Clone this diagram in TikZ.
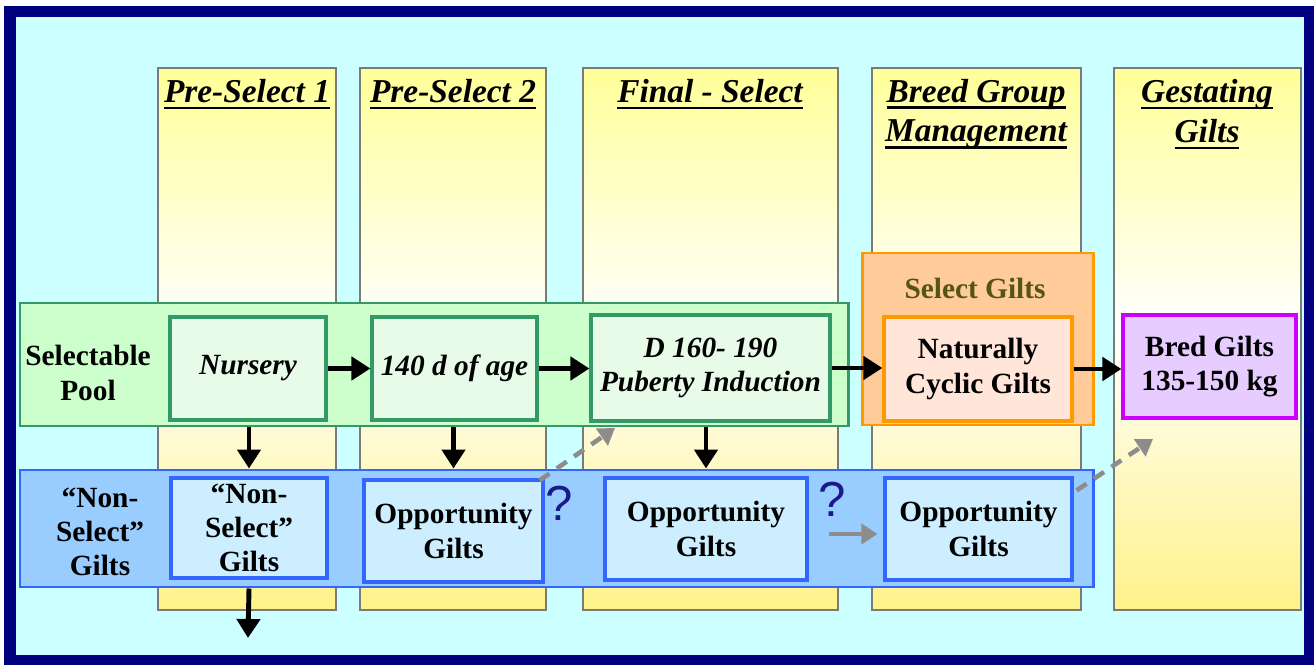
\documentclass[tikz,border=0pt]{standalone}
\usepackage{fontspec}
\setmainfont{Liberation Serif}
\newfontfamily\qmarkFont{Liberation Sans}
\usetikzlibrary{calc}
\usetikzlibrary{arrows.meta}

\definecolor{frameNavy}{HTML}{000080}
\definecolor{skyCyan}{HTML}{CCFFFF}
\definecolor{colYellow}{HTML}{FFFF99}
\definecolor{colEdge}{HTML}{7A7A7A}
\definecolor{greenLine}{HTML}{339966}
\definecolor{greenFill}{HTML}{CCFFCC}
\definecolor{greenInner}{HTML}{E8FBE8}
\definecolor{blueLine}{HTML}{3366FF}
\definecolor{blueFill}{HTML}{99CCFF}
\definecolor{blueInner}{HTML}{CCEEFF}
\definecolor{orangeLine}{HTML}{FF9900}
\definecolor{orangeFill}{HTML}{FFCC99}
\definecolor{orangeInner}{HTML}{FFE6D8}
\definecolor{bredLine}{HTML}{CC00FF}
\definecolor{bredFill}{HTML}{E6CCFF}
\definecolor{oliveText}{HTML}{555511}
\definecolor{qmarkBlue}{HTML}{1A1A88}
\definecolor{maybeGray}{HTML}{8C8C8C}

\newcommand{\bodyFont}{\fontsize{16.7}{19.5}\selectfont\bfseries}
\newcommand{\headFont}{\fontsize{19}{22.7}\selectfont\bfseries\itshape}
% thick underline for the column headings
\newcommand{\headUnder}[1]{\leavevmode\setbox0=\hbox{#1}\rlap{\rule[-3.8pt]{\wd0}{1.3pt}}\box0}

\begin{document}
\begin{tikzpicture}[x=0.02cm, y=-0.02cm,
	band/.style={draw=#1Line, fill=#1Fill, line width=1.7pt, inner sep=0pt},
	stageBox/.style={draw=#1Line, fill=#1Inner, line width=1.8pt, inner sep=0pt, align=center, font=\bodyFont},
	heading/.style={align=center, font=\headFont},
	flowArrow/.style={-{Triangle[length=0.38cm,width=0.46cm]}, line width=2.8pt},
	maybeArrow/.style={-{Triangle[length=0.32cm,width=0.4cm]}, line width=2.6pt, maybeGray}]

	% one pixel of the slide
	\def \px {0.02cm};
	\useasboundingbox (0,0) rectangle (1314,665);

	% frame and sky
	\fill [frameNavy] (4,6) rectangle (1314,665);
	\fill [skyCyan] (16,17) rectangle (1304,655);

	% the five stage columns, yellow fading to white and back
	\def \colTop {68};
	\def \colMid {330};
	\def \colBottom {610};
	\foreach \xl/\xr in {158/336, 360/546, 583/838, 872/1081, 1114/1301} {
		\shade [top color = colYellow, bottom color = white] (\xl,\colTop) rectangle (\xr,\colMid);
		\shade [top color = white, bottom color = colYellow!90!orange] (\xl,\colMid) rectangle (\xr,\colBottom);
		\draw [colEdge, line width = 0.7pt] (\xl,\colTop) rectangle (\xr,\colBottom);
	}

	% column headings
	\node [heading] (preOneHead) at (247,94) {\headUnder{Pre-Select 1}};
	\node [heading] (preTwoHead) at (453,94) {\headUnder{Pre-Select 2}};
	\node [heading] (finalHead) at (710,94) {\headUnder{Final - Select}};
	\node [heading] (breedHead) at (976,114) {\headUnder{Breed Group}\\\headUnder{Management}};
	\node [heading] (gestHead) at (1207,114) {\headUnder{Gestating}\\\headUnder{Gilts}};

	% the two pools
	\node [band=green, minimum width = 828*\px, minimum height = 123*\px] (selectBand) at (434,364.5) {};
	\node [band=blue, minimum width = 1073*\px, minimum height = 117*\px] (nonSelectBand) at (556.5,528.5) {};
	\node [band=orange, minimum width = 231*\px, minimum height = 172*\px] (selectGiltsBand) at (977.5,339) {};

	\node [align=center, font=\bodyFont] (selectLabel) at (88,373) {Selectable\\Pool};
	\node [align=center, font=\bodyFont] (nonSelectLabel) at (100,532) {“Non-\\Select”\\Gilts};
	\node [font=\bodyFont, text=oliveText] (selectGiltsLabel) at (975,288) {Select Gilts};

	% selectable stages
	\node [stageBox=green, font=\bodyFont\itshape, minimum width = 156*\px, minimum height = 103*\px] (nursery) at (248,368.5) {Nursery};
	\node [stageBox=green, font=\bodyFont\itshape, minimum width = 165*\px, minimum height = 103*\px] (ageBox) at (454.5,368.5) {140 d of age};
	\node [stageBox=green, font=\bodyFont\itshape, minimum width = 239*\px, minimum height = 106*\px] (pubertyBox) at (710.5,368) {D 160- 190\\Puberty Induction};
	\node [stageBox=orange, minimum width = 188*\px, minimum height = 104*\px] (cyclicBox) at (978,369) {Naturally\\Cyclic Gilts};
	\node [draw=bredLine, fill=bredFill, line width=1.8pt, align=center, font=\bodyFont, minimum width = 173*\px, minimum height = 103*\px] (bredBox) at (1209.5,366.5) {Bred Gilts\\135-150 kg};

	% non-select and opportunity gilts
	\node [stageBox=blue, minimum width = 156*\px, minimum height = 100*\px] (nonSelectBox) at (249,528) {“Non-\\Select”\\Gilts};
	\node [stageBox=blue, minimum width = 179*\px, minimum height = 102*\px] (oppOne) at (453.5,531) {Opportunity\\Gilts};
	\node [stageBox=blue, minimum width = 202*\px, minimum height = 102*\px] (oppTwo) at (706,529) {Opportunity\\Gilts};
	\node [stageBox=blue, minimum width = 187*\px, minimum height = 102*\px] (oppThree) at (978.5,529) {Opportunity\\Gilts};

	% question marks
	\node [font=\qmarkFont\fontsize{28}{28}\selectfont, text=qmarkBlue] (qmarkOne) at (559,503) {?};
	\node [font=\qmarkFont\fontsize{28}{28}\selectfont, text=qmarkBlue] (qmarkTwo) at (832,499) {?};

	% flow along the selectable pool
	\draw [flowArrow] (nursery.east) -- (ageBox.west);
	\draw [flowArrow] (ageBox.east) -- (pubertyBox.west |- ageBox.east);
	\draw [flowArrow] (pubertyBox.east) -- (cyclicBox.west |- pubertyBox.east);
	\draw [flowArrow] (cyclicBox.east) -- (bredBox.west |- cyclicBox.east);

	% culled downwards
	\draw [flowArrow] (nonSelectBox.north |- selectBand.south) -- (nonSelectBox.north |- nonSelectBand.north);
	\draw [flowArrow] (oppOne.north |- selectBand.south) -- (oppOne.north |- nonSelectBand.north);
	\draw [flowArrow] (oppTwo.north |- selectBand.south) -- (oppTwo.north |- nonSelectBand.north);
	\coordinate (culledEnd) at (248,638);
	\draw [flowArrow] (nonSelectBox.south |- nonSelectBand.south) -- (culledEnd);

	% maybe routes for opportunity gilts
	\coordinate (backToPuberty) at (615,428);
	\coordinate (onToBred) at (1153,439);
	\coordinate (laterStart) at (829,534);
	\draw [maybeArrow, dash pattern = on 0.24cm off 0.18cm] ($(oppOne.north east)+(-5,2)$) -- (backToPuberty);
	\draw [maybeArrow] (laterStart) -- ($(laterStart -| oppThree.west)+(-6,0)$);
	\draw [maybeArrow, dash pattern = on 0.24cm off 0.18cm] ($(oppThree.north east)+(3,14)$) -- (onToBred);

\end{tikzpicture}
\end{document}
